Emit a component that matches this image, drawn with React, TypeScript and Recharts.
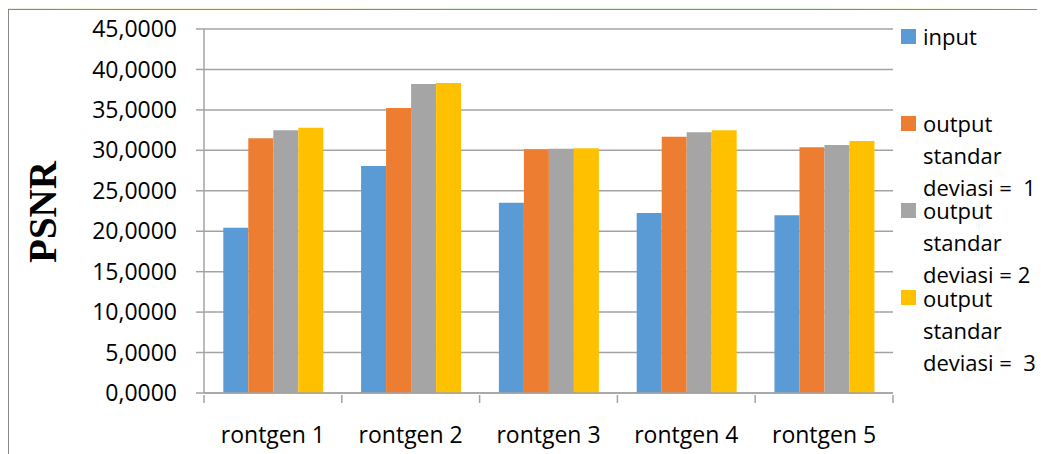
import { BarChart, Bar, XAxis, YAxis, CartesianGrid, Legend } from 'recharts'

// ── data ───────────────────────────────────────────────────────────────────

const categories = ['rontgen 1', 'rontgen 2', 'rontgen 3', 'rontgen 4', 'rontgen 5']
const inputValues = [20.44, 28.06, 23.53, 22.25, 21.96]
const sd1Values = [31.49, 35.24, 30.12, 31.69, 30.37]
const sd2Values = [32.47, 38.2, 30.2, 32.23, 30.66]
const sd3Values = [32.8, 38.32, 30.25, 32.47, 31.15]
const yTicks = [0, 5, 10, 15, 20, 25, 30, 35, 40, 45]

const seriesNames = ['input', 'output\nstandar\ndeviasi =  1', 'output\nstandar\ndeviasi = 2', 'output\nstandar\ndeviasi =  3']
const seriesKeys = ['input', 'sd1', 'sd2', 'sd3']
const COLORS = ['#5b9bd5', '#ed7d31', '#a5a5a5', '#ffc000']

const data = categories.map((name, i) => ({
  name,
  input: inputValues[i],
  sd1: sd1Values[i],
  sd2: sd2Values[i],
  sd3: sd3Values[i],
}))

// ── layout ─────────────────────────────────────────────────────────────────

const W = 1036
const H = 444
const MARGIN = { top: 19, right: 152, bottom: 0, left: 0 }
const Y_W = 195
const PLOT_W = W - MARGIN.right - Y_W
const BAND = PLOT_W / categories.length
const GRID = '#a3a3a3'
const FONT = '"Open Sans", sans-serif'

function XTick(props: any) {
  const { x, y, payload, index } = props
  const left = x - BAND / 2
  return (
    <g>
      <line x1={left} x2={left} y1={y} y2={y + 8} stroke={GRID} strokeWidth={1.5} />
      {index === categories.length - 1 && (
        <line x1={left + BAND} x2={left + BAND} y1={y} y2={y + 8} stroke={GRID} strokeWidth={1.5} />
      )}
      <text x={x} y={y + 39} textAnchor="middle" dominantBaseline="central" fontFamily={FONT} fontSize={23} fill="#000">
        {payload.value}
      </text>
    </g>
  )
}

// legend in series order, fixed entry spacing like the Excel original
function LegendBox({ payload }: any) {
  const items = [...(payload ?? [])].sort(
    (a: any, b: any) => seriesKeys.indexOf(a.dataKey) - seriesKeys.indexOf(b.dataKey),
  )
  return (
    <div style={{ position: 'relative', width: 150, height: 400, fontFamily: FONT, fontSize: 22, color: '#000' }}>
      {items.map((p: any, i: number) => (
        <div key={i} style={{ position: 'absolute', left: 0, top: 10 + i * 87.2 }}>
          <span style={{ position: 'absolute', left: 0, top: 8.5, width: 15, height: 15, background: p.color }} />
          <div style={{ position: 'absolute', left: 22, top: 0, whiteSpace: 'pre', lineHeight: '32px' }}>{p.value}</div>
        </div>
      ))}
    </div>
  )
}

export default function App() {
  return (
    <div style={{ position: 'relative', margin: '-8px 0 0 -8px', width: 1045, height: 454, overflow: 'hidden', background: '#fff' }}>
      <div
        style={{
          position: 'absolute', left: 0, top: 0, width: 1045, height: 9,
          background: 'linear-gradient(90deg, #e4f1de 0%, #fbf3d6 12%, #fbecd2 28%, #e0f0dc 45%, #e2f1dd 78%, #f8f5d9 88%, #fbf9e6 95%, #ffffff 100%)',
        }}
      />
      <div style={{ position: 'absolute', left: 8, top: 9, width: 1100, height: 500, borderTop: '1px solid #878787', borderLeft: '1px solid #878787' }} />
      <div style={{ position: 'absolute', left: 9, top: 10 }}>
        <BarChart width={W} height={H} data={data} margin={MARGIN} barCategoryGap="14%" barGap={0}>
          <CartesianGrid vertical={false} stroke={GRID} strokeWidth={1.5} />
          <XAxis
            dataKey="name"
            height={61}
            axisLine={{ stroke: GRID, strokeWidth: 1.5 }}
            tickLine={false}
            tickSize={0}
            tick={<XTick />}
            interval={0}
          />
          <YAxis
            width={Y_W}
            domain={[0, 45]}
            ticks={yTicks}
            interval={0}
            axisLine={{ stroke: GRID, strokeWidth: 1.5 }}
            tickLine={{ stroke: GRID, strokeWidth: 1.5 }}
            tickSize={8}
            tickMargin={19}
            tick={{ fontFamily: FONT, fontSize: 23, fill: '#000' }}
            tickFormatter={v => Number(v).toFixed(4).replace('.', ',')}
            label={() => (
              <text
                x={33}
                y={202}
                transform="rotate(-90 33 202)"
                textAnchor="middle"
                dominantBaseline="central"
                fontFamily='"Liberation Serif", "Times New Roman", serif'
                fontWeight="bold"
                fontSize={39}
                fill="#000"
              >
                PSNR
              </text>
            )}
          />
          <Legend
            layout="vertical"
            align="center"
            verticalAlign="middle"
            wrapperStyle={{ left: 892, top: 0, width: 150 }}
            content={<LegendBox />}
          />
          {seriesKeys.map((k, i) => (
            <Bar key={k} dataKey={k} name={seriesNames[i]} fill={COLORS[i]} isAnimationActive={false} />
          ))}
        </BarChart>
      </div>
    </div>
  )
}
